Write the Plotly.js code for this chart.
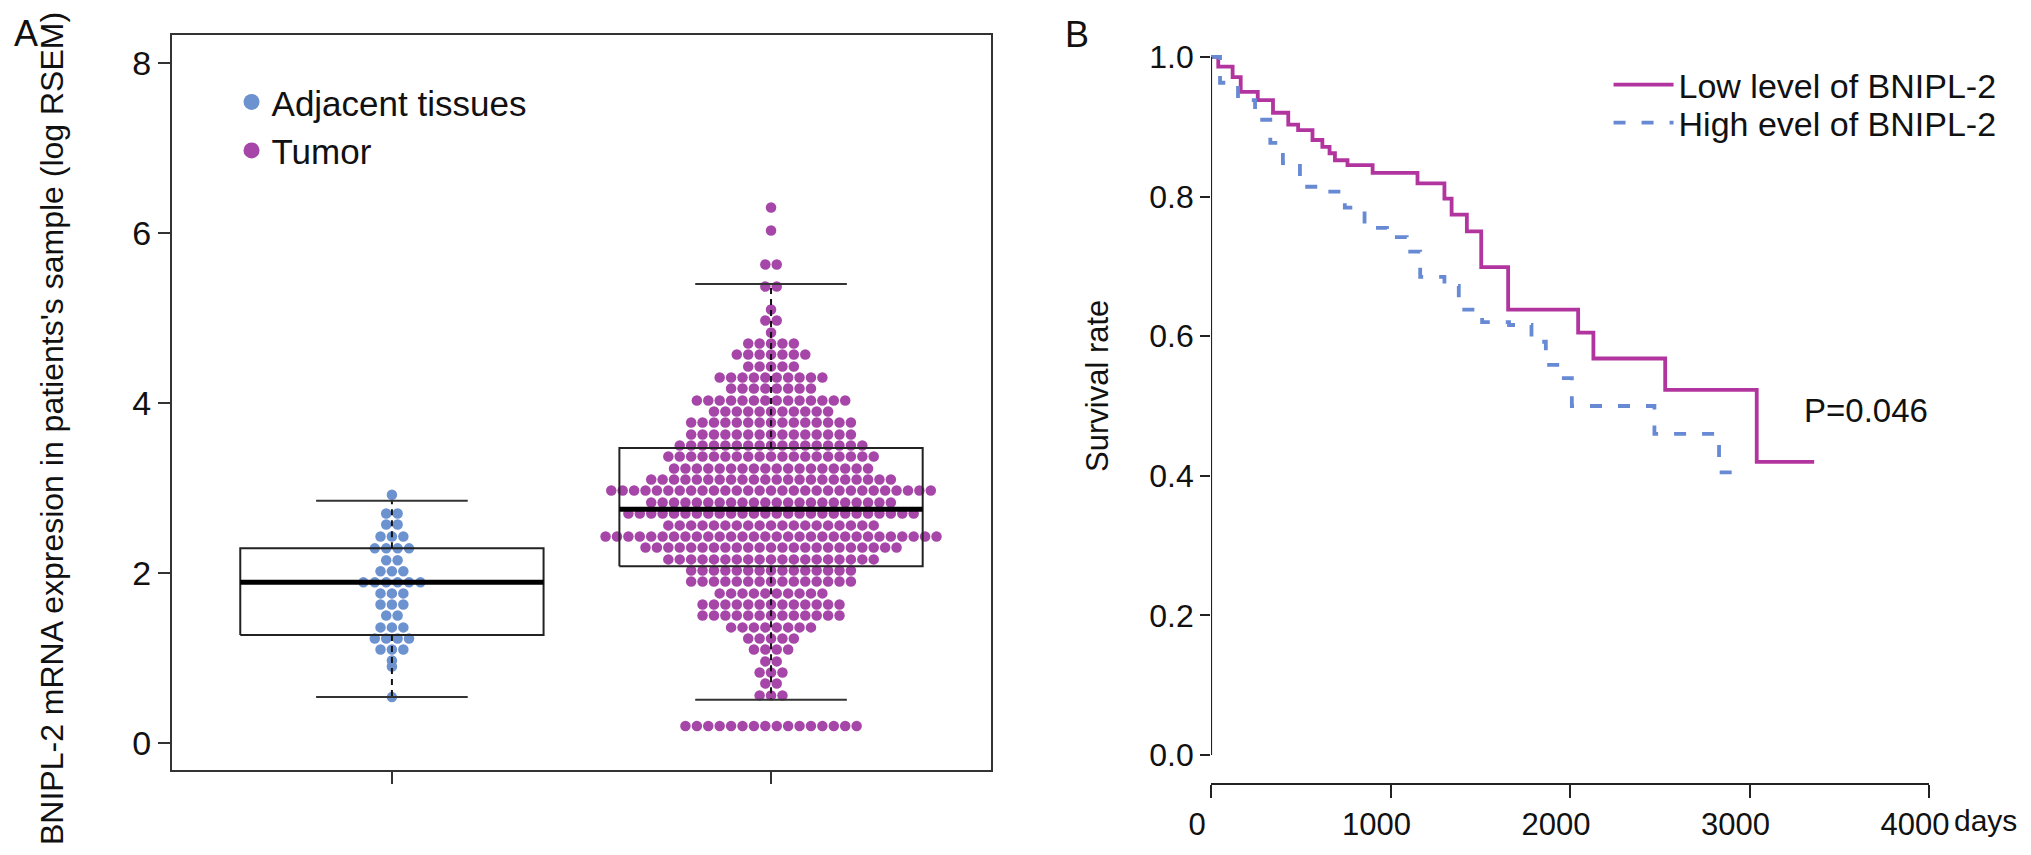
<!DOCTYPE html>
<html>
<head>
<meta charset="utf-8">
<script src="https://cdn.plot.ly/plotly-3.0.1.min.js"></script>
<style>
  html, body { margin: 0; padding: 0; background: #fff; }
  #chart { width: 2031px; height: 855px; }
</style>
</head>
<body>
<div id="chart"></div>
<script>
// Panel A: expression rows (beeswarm levels) and dot counts per row
var adjLevels = [2.92, 2.70, 2.57, 2.43, 2.29, 2.15, 2.02, 1.89, 1.76, 1.63, 1.50, 1.36, 1.23, 1.10, 0.97, 0.90, 0.54];
var adjCounts = [1, 2, 2, 3, 4, 2, 3, 6, 3, 3, 2, 3, 4, 3, 1, 1, 1];

var tumLevels = [6.30, 6.03, 5.63, 5.37, 5.10, 4.97, 4.83, 4.70, 4.57, 4.43, 4.30, 4.17, 4.03, 3.90,
                 3.77, 3.63, 3.50, 3.37, 3.23, 3.10, 2.97, 2.83, 2.70, 2.56, 2.43, 2.30, 2.16, 2.03,
                 1.90, 1.76, 1.63, 1.50, 1.36, 1.23, 1.10, 0.96, 0.83, 0.70, 0.56, 0.20];
var tumCounts = [1, 1, 2, 2, 1, 2, 1, 5, 7, 5, 10, 8, 14, 11,
                 15, 15, 17, 19, 18, 22, 29, 22, 26, 19, 30, 23, 19, 15,
                 15, 10, 13, 13, 8, 5, 4, 2, 3, 2, 3, 16];

// boxplot stats: adjacent, tumor
var boxNames = ['Adjacent tissues', 'Tumor'];
var boxLower = [0.54, 0.51];
var boxQ1 = [1.27, 2.08];
var boxMed = [1.89, 2.75];
var boxQ3 = [2.29, 3.47];
var boxUpper = [2.85, 5.40];

// Panel B: Kaplan-Meier steps
var lowDays = [0, 40, 120, 165, 260, 345, 430, 485, 565, 620, 660, 690, 760, 900, 1150, 1300, 1340, 1425, 1505, 1655, 2045, 2130, 2530, 3040, 3360];
var lowSurv = [1.0, 0.986, 0.971, 0.950, 0.938, 0.920, 0.903, 0.895, 0.881, 0.871, 0.862, 0.852, 0.845, 0.834, 0.819, 0.797, 0.774, 0.750, 0.699, 0.638, 0.605, 0.568, 0.523, 0.420, 0.420];
var highDays = [0, 50, 150, 245, 330, 400, 495, 645, 745, 855, 980, 1090, 1165, 1300, 1380, 1510, 1660, 1785, 1865, 1950, 2010, 2470, 2830, 2930];
var highSurv = [1.0, 0.963, 0.938, 0.910, 0.877, 0.848, 0.814, 0.807, 0.784, 0.755, 0.742, 0.721, 0.685, 0.672, 0.638, 0.620, 0.616, 0.592, 0.559, 0.540, 0.500, 0.460, 0.405, 0.405];

var blueDot = 'rgb(108,146,208)';
var pinkDot = 'rgb(166,70,168)';
var lowCol = 'rgb(178,52,158)';
var highCol = 'rgb(104,138,212)';
var fnt = 'Liberation Sans, Arial, Helvetica, sans-serif';

// lay rows of dots side by side around the group centre (beeswarm "center")
function swarm(levels, counts, center, step) {
  var xs = [], ys = [];
  for (var i = 0; i < levels.length; i++) {
    var n = counts[i];
    for (var j = 0; j < n; j++) {
      xs.push(center + (j - (n - 1) / 2) * step);
      ys.push(levels[i]);
    }
  }
  return {x: xs, y: ys};
}

var step = 0.0301;
var sAdj = swarm(adjLevels, adjCounts, 1, step);
var sTum = swarm(tumLevels, tumCounts, 2, step);

var traces = [];
traces.push({x: sAdj.x, y: sAdj.y, type: 'scatter', mode: 'markers', xaxis: 'x', yaxis: 'y',
  marker: {color: blueDot, size: 10.5}, showlegend: false, hoverinfo: 'y'});
traces.push({x: sTum.x, y: sTum.y, type: 'scatter', mode: 'markers', xaxis: 'x', yaxis: 'y',
  marker: {color: pinkDot, size: 10.5}, showlegend: false, hoverinfo: 'y'});

// boxplot drawn on top, R style
var half = 0.4, cap = 0.2;
for (var g = 0; g < boxNames.length; g++) {
  var c = g + 1;
  traces.push({x: [c - half, c + half, c + half, c - half, c - half],
    y: [boxQ1[g], boxQ1[g], boxQ3[g], boxQ3[g], boxQ1[g]],
    type: 'scatter', mode: 'lines', line: {color: '#222', width: 2}, showlegend: false, hoverinfo: 'skip'});
  traces.push({x: [c - half, c + half], y: [boxMed[g], boxMed[g]], type: 'scatter', mode: 'lines',
    line: {color: '#000', width: 5}, showlegend: false, hoverinfo: 'skip'});
  traces.push({x: [c, c, null, c, c], y: [boxQ3[g], boxUpper[g], null, boxQ1[g], boxLower[g]],
    type: 'scatter', mode: 'lines', line: {color: '#111', width: 2, dash: '6px,5px'}, showlegend: false, hoverinfo: 'skip'});
  traces.push({x: [c - cap, c + cap, null, c - cap, c + cap], y: [boxUpper[g], boxUpper[g], null, boxLower[g], boxLower[g]],
    type: 'scatter', mode: 'lines', line: {color: '#333', width: 2}, showlegend: false, hoverinfo: 'skip'});
}

// legend entries for panel A
traces.push({x: [null], y: [null], type: 'scatter', mode: 'markers', name: boxNames[0],
  marker: {color: blueDot, size: 16}, legend: 'legend'});
traces.push({x: [null], y: [null], type: 'scatter', mode: 'markers', name: boxNames[1],
  marker: {color: pinkDot, size: 16}, legend: 'legend'});

// survival curves
traces.push({x: lowDays, y: lowSurv, type: 'scatter', mode: 'lines', xaxis: 'x2', yaxis: 'y2',
  line: {shape: 'hv', color: lowCol, width: 3.8}, name: 'Low level of BNIPL-2', legend: 'legend2'});
traces.push({x: highDays, y: highSurv, type: 'scatter', mode: 'lines', xaxis: 'x2', yaxis: 'y2',
  line: {shape: 'hv', color: highCol, width: 3.8, dash: '12px,16px'}, name: 'High evel of BNIPL-2', legend: 'legend3'});

function note(text, x, y, size, extra) {
  var a = {text: text, xref: 'paper', yref: 'paper', x: x, y: y, xanchor: 'center', yanchor: 'middle',
    showarrow: false, font: {size: size, family: fnt, color: '#111'}};
  for (var k in extra) a[k] = extra[k];
  return a;
}

function legendAt(y) {
  return {x: 0.792, y: y, xanchor: 'left', yanchor: 'middle', bgcolor: 'rgba(0,0,0,0)',
    font: {size: 34, family: fnt, color: '#111'}, itemwidth: 60};
}

var layout = {
  width: 2031, height: 855,
  margin: {l: 0, r: 0, t: 0, b: 0},
  paper_bgcolor: '#fff', plot_bgcolor: 'rgba(0,0,0,0)',
  font: {family: fnt, color: '#111', size: 32},
  showlegend: true,
  xaxis: {domain: [0.0847, 0.4879], range: [0.42, 2.58], showgrid: false, zeroline: false,
    showline: true, mirror: true, linecolor: '#333', linewidth: 2,
    tickvals: [1, 2], ticktext: ['', ''], ticks: 'outside', ticklen: 12, tickwidth: 2, tickcolor: '#333'},
  yaxis: {domain: [0.0994, 0.9591], range: [-0.318, 8.33], showgrid: false, zeroline: false,
    showline: true, mirror: true, linecolor: '#333', linewidth: 2,
    tickvals: [0, 2, 4, 6, 8], ticks: 'outside', ticklen: 12, tickwidth: 2, tickcolor: '#333',
    tickfont: {size: 34, family: fnt, color: '#111'}},
  xaxis2: {domain: [0.5963, 0.9498], range: [0, 4000], anchor: 'y2', showgrid: false, zeroline: false,
    showline: true, linecolor: '#222', linewidth: 2,
    tickvals: [0, 1000, 2000, 3000, 4000], ticks: 'outside', ticklen: 13, tickwidth: 2, tickcolor: '#222',
    ticklabelshift: -14, tickfont: {size: 31, family: fnt, color: '#111'}},
  yaxis2: {domain: [0.0842, 0.9661], range: [-0.04, 1.04], anchor: 'x2', showgrid: false, zeroline: false,
    showline: false, tickvals: [0, 0.2, 0.4, 0.6, 0.8, 1.0], tickformat: '.1f',
    ticks: 'outside', ticklen: 10, tickwidth: 2, tickcolor: '#222',
    tickfont: {size: 32, family: fnt, color: '#111'}},
  legend: {x: 0.114, y: 0.915, xanchor: 'left', yanchor: 'top', bgcolor: 'rgba(0,0,0,0)',
    font: {size: 35, family: fnt, color: '#111'}, itemwidth: 30},
  legend2: legendAt(0.9006),
  legend3: legendAt(0.8561),
  shapes: [
    {type: 'line', xref: 'x2', yref: 'y2', x0: 0, x1: 0, y0: 0, y1: 1, line: {color: '#222', width: 2}}
  ],
  annotations: [
    note('A', 0.0128, 0.9614, 36),
    note('B', 0.5303, 0.9602, 36),
    note("BNIPL-2 mRNA expresion in patients's sample (log RSEM)", 0.0256, 0.4994, 32, {textangle: -90}),
    note('Survival rate', 0.5401, 0.5485, 31, {textangle: -90}),
    note('days', 0.9774, 0.0398, 30),
    note('P=0.046', 3650, 0.494, 33, {xref: 'x2', yref: 'y2'})
  ]
};

Plotly.newPlot('chart', traces, layout, {displayModeBar: false, staticPlot: true});
</script>
</body>
</html>
